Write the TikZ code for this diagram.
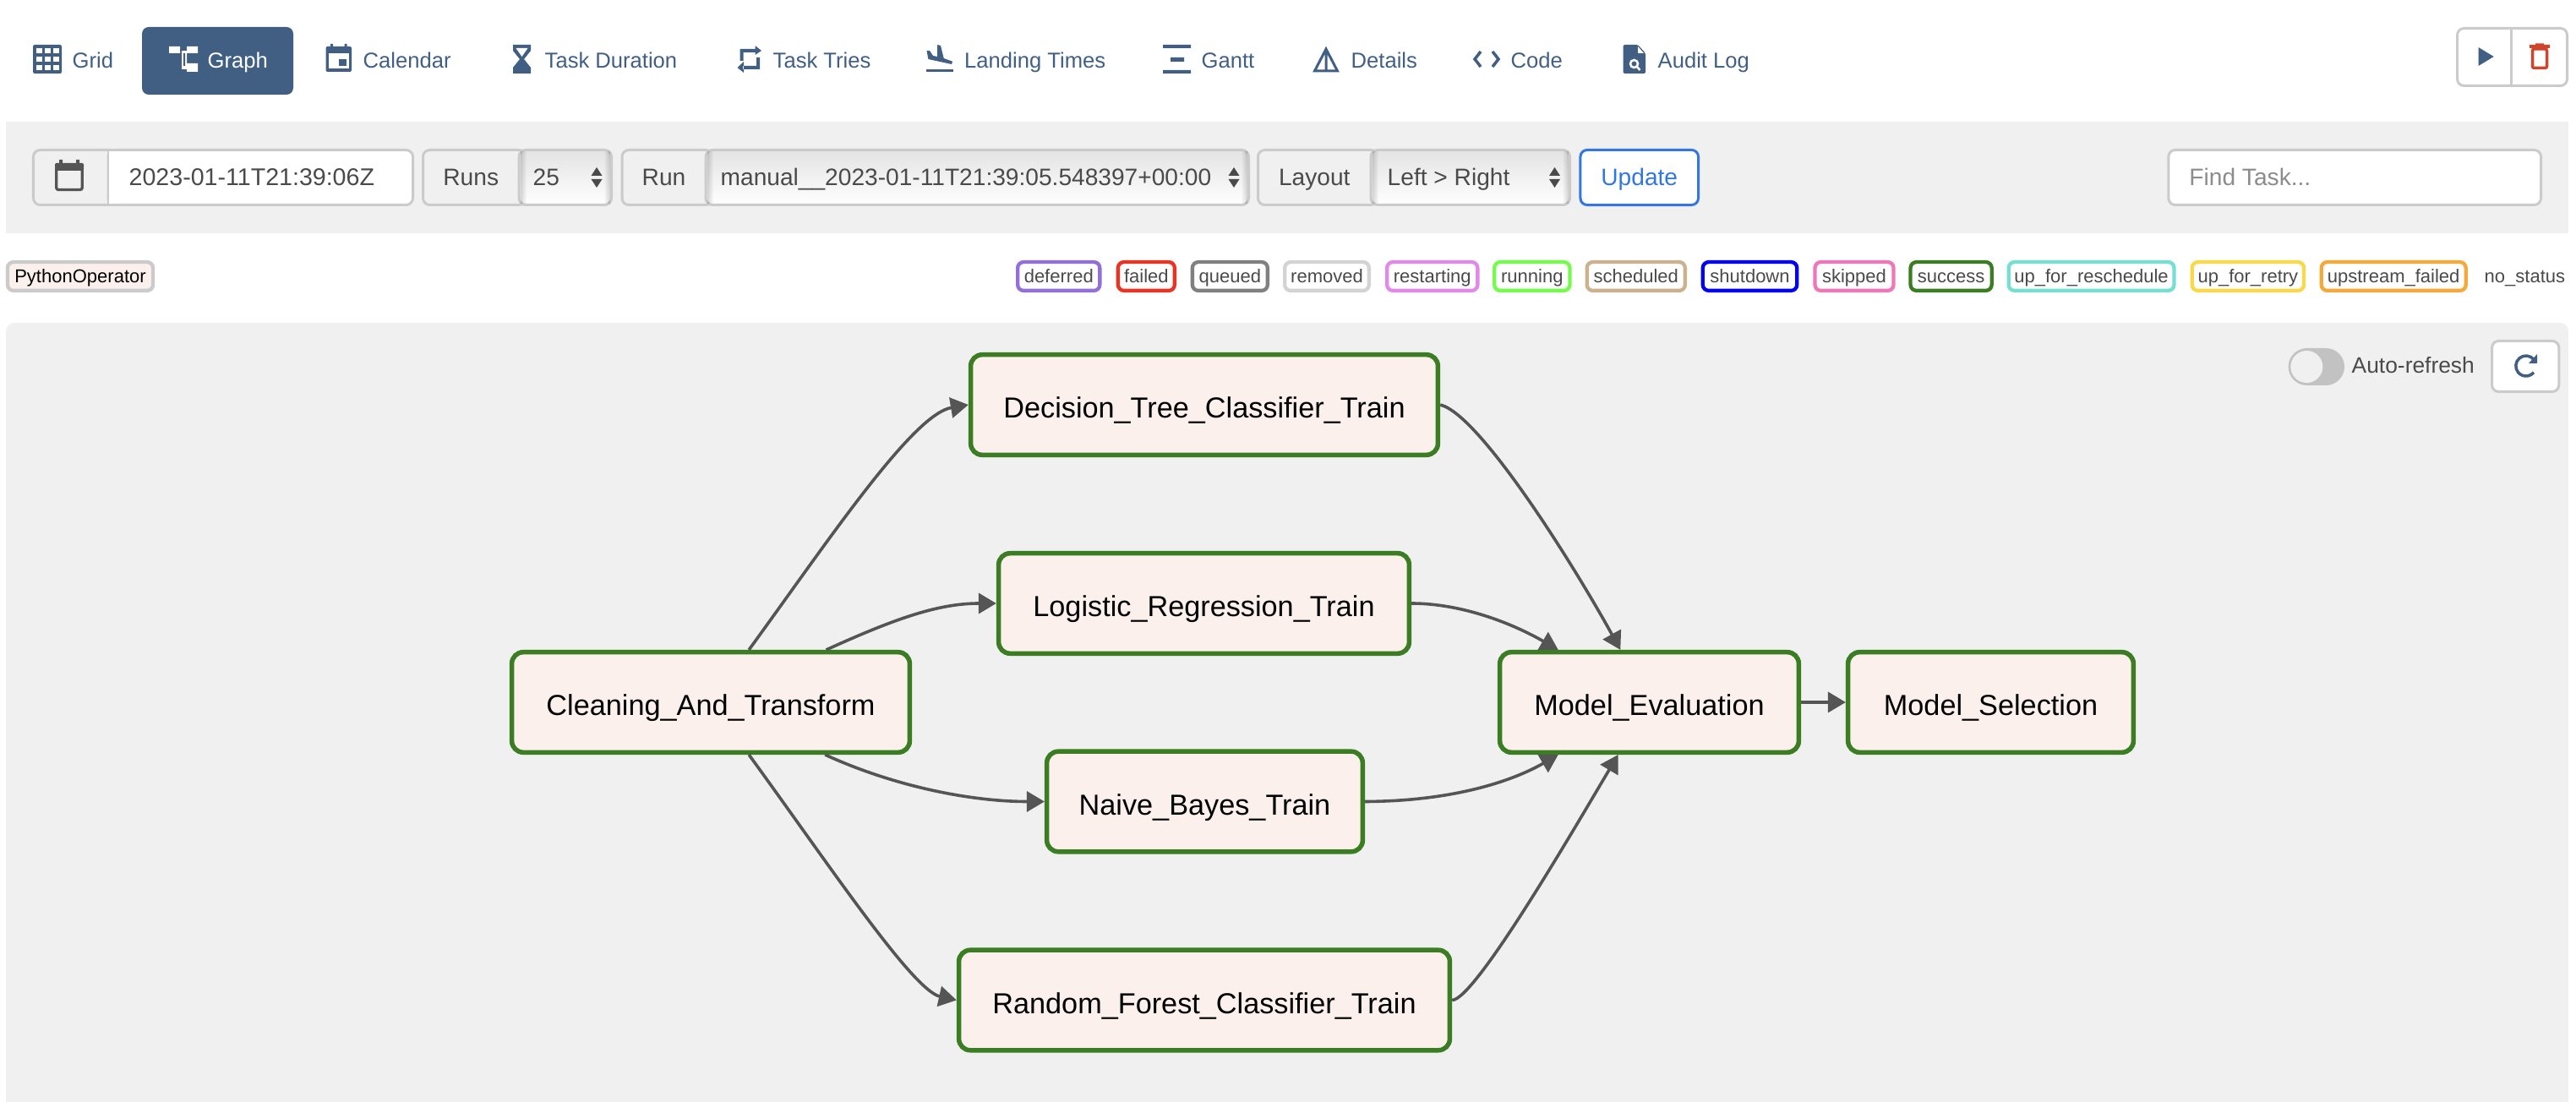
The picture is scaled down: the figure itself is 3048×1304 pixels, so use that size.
\documentclass[tikz,border=0pt]{standalone}
\usepackage{fontspec}
\setmainfont{Liberation Sans}
\usetikzlibrary{arrows.meta,fadings}

\definecolor{navblue}{HTML}{415F82}
\definecolor{panelgray}{HTML}{F0F0F0}
\definecolor{fieldgray}{HTML}{CBCBCB}
\definecolor{textgray}{HTML}{4A4A4A}
\definecolor{edgegray}{HTML}{555555}
\definecolor{taskgreen}{HTML}{3A7D22}
\definecolor{taskfill}{HTML}{FCF0EC}
\definecolor{updateblue}{HTML}{3276E4}
\definecolor{trashred}{HTML}{CF442B}
\definecolor{deferredc}{HTML}{9270D8}
\definecolor{failedc}{HTML}{EB3323}
\definecolor{queuedc}{HTML}{808080}
\definecolor{removedc}{HTML}{D3D3D3}
\definecolor{restartingc}{HTML}{E188E8}
\definecolor{runningc}{HTML}{75FB4C}
\definecolor{scheduledc}{HTML}{CBB18D}
\definecolor{shutdownc}{HTML}{0000F5}
\definecolor{skippedc}{HTML}{EF76B9}
\definecolor{reschedulec}{HTML}{75E0D2}
\definecolor{retryc}{HTML}{FBD84A}
\definecolor{upfailedc}{HTML}{F4A93A}

\tikzset{
  navlabel/.style={anchor=base west, inner sep=0, text=navblue, font=\fontsize{7.28}{9}\selectfont},
  formtext/.style={anchor=base west, inner sep=0, text=textgray, font=\fontsize{8}{10}\selectfont},
  addonbox/.style={draw=fieldgray, fill=panelgray, line width=0.03cm, rounded corners=0.08cm},
  inputbox/.style={draw=fieldgray, fill=white, line width=0.03cm, rounded corners=0.08cm},
  selectbox/.style={draw=fieldgray, top color=black!11, bottom color=white, line width=0.03cm, rounded corners=0.08cm},
  pill/.style={line width=0.043cm, fill=white, rounded corners=0.07cm, minimum height=0.338cm, inner sep=0,
    text height=0.19cm, text depth=0.03cm, text=textgray, font=\fontsize{6.26}{8}\selectfont},
  task/.style={draw=taskgreen, fill=taskfill, line width=0.055cm, rounded corners=0.135cm, minimum height=1.185cm,
    inner sep=0, text height=0.37cm, text depth=0.06cm, font=\fontsize{9.74}{12}\selectfont},
  flow/.style={draw=edgegray, line width=0.036cm, -{Triangle[length=0.21cm,width=0.24cm]}},
}

\begin{document}
\begin{tikzpicture}[x=0.01cm, y=-0.01cm]
  \useasboundingbox (0,0) rectangle (3048,1304);
  \fill[panelgray] (7,144) rectangle (3039,276);
  \fill[panelgray, rounded corners=0.1cm] (7,1304) -- (7,382) -- (3039,382) [sharp corners] -- (3039,1304) -- cycle;

  \fill[navblue, rounded corners=0.08cm] (168,32) rectangle (347,112);
  \foreach \name/\lab/\xa in {grid/Grid/85, calendar/Calendar/429, duration/Task Duration/644, tries/Task Tries/914,
      landing/Landing Times/1140.5, gantt/Gantt/1421, details/Details/1598, code/Code/1787, audit/Audit Log/1961}
    \node[navlabel] (\name) at (\xa,81) {\lab};
  \node[navlabel, text=white] (graph) at (245,81) {Graph};

  \fill[navblue, rounded corners=0.02cm] (39,53) rectangle (73,87);
  \foreach \i in {43,53,63}
    \foreach \j in {57,67,77}
      \fill[white] (\i,\j) rectangle +(6.5,6);
  \fill[white] (200,55) rectangle (213,63) (221,55) rectangle (234,63) (221,75) rectangle (234,85) (215,60) rectangle (221,82);
  \fill[navblue] (217,63) rectangle (219,78) (213,58) rectangle (221,60);
  \fill[navblue, rounded corners=0.02cm] (385.5,55) rectangle (416,85);
  \fill[navblue] (391,52) rectangle (394,57) (407.5,52) rectangle (410.5,57);
  \fill[white] (389,63) rectangle (412.5,81.5);
  \fill[navblue] (401,70) rectangle (410,78);
  \fill[navblue] (607,53) -- (628,53) -- (628,60) -- (620,70) -- (628,80) -- (628,87) -- (607,87) -- (607,80) -- (615,70) -- (607,60) -- cycle;
  \fill[white] (610.5,57) -- (624.5,57) -- (617.5,67) -- cycle;
  \fill[navblue] (875.5,58) rectangle (895,62) (875.5,58) rectangle (879.5,72) (901,60) -- (893.5,54) -- (893.5,65) -- cycle;
  \fill[navblue] (879,78) rectangle (899,82) (895,68) rectangle (899,82) (872.5,80) -- (880,73) -- (880,86) -- cycle;
  \fill[navblue] (1096,82) rectangle (1128,85);
  \fill[navblue] (1096.5,60) -- (1100,60) -- (1104,66) -- (1109,67) -- (1109,53) -- (1113,54) -- (1116.7,69) -- (1127,72.7) -- (1126,76) -- (1098.4,70) -- cycle;
  \fill[navblue] (1376,53) rectangle (1409,57) (1385,68) rectangle (1401,73) (1376,83) rectangle (1409,87);
  \draw[navblue, line width=0.03cm] (1555.5,84) -- (1569,58) -- (1582.5,84) -- cycle (1569,58) -- (1569,84);
  \draw[navblue, line width=0.035cm] (1752,61) -- (1745,70) -- (1752,79) (1766,61) -- (1773,70) -- (1766,79);
  \fill[navblue, rounded corners=0.015cm] (1920.5,53) -- (1938,53) -- (1947,63) -- (1947,87) -- (1920.5,87) -- cycle;
  \fill[white] (1938,55) -- (1945,63) -- (1938,63) -- cycle;
  \draw[white, line width=0.025cm] (1933.5,75.5) circle[radius=0.045cm] (1937,79) -- (1940.5,83);

  \draw[inputbox] (2907.5,33.5) rectangle (3037.5,101.5);
  \draw[fieldgray, line width=0.025cm] (2971.5,33) -- (2971.5,102);
  \fill[navblue] (2932.5,56) -- (2950.7,67) -- (2932.5,78) -- cycle;
  \fill[trashred] (2993,53) rectangle (3017,57) (3000,51.5) rectangle (3010,54);
  \draw[trashred, line width=0.035cm, rounded corners=0.02cm] (2996.5,58) rectangle (3013.5,80.5);

  \draw[addonbox] (39.5,177.5) rectangle (140,242.5);
  \draw[inputbox] (128,177.5) rectangle (488.5,242.5);
  \fill[white] (129,179) rectangle (140,241);
  \draw[fieldgray, line width=0.02cm] (128,177) -- (128,243);
  \draw[edgegray, line width=0.033cm, rounded corners=0.025cm] (66.7,196) rectangle (97.3,224.5);
  \fill[edgegray, rounded corners=0.015cm] (65,193) rectangle (99,202);
  \fill[edgegray] (70,189) rectangle (74,194) (90,189) rectangle (94,194);
  \node[formtext, font=\fontsize{8.13}{10}\selectfont] (datefield) at (152,220) {2023-01-11T21:39:06Z};

  \foreach \name/\lab/\xa/\xb in {runs/Runs/500.5/622, run/Run/736/843, layout/Layout/1488.5/1630} {
    \draw[addonbox] (\xa,177.5) rectangle (\xb,242.5);
    \node[formtext, anchor=base] (\name) at ({(\xa+\xb-8)/2},220) {\lab};
  }
  \foreach \xa/\xb/\xt in {614/725/706, 835/1479/1460, 1622/1859/1839.5} {
    \draw[selectbox] (\xa,177.5) rectangle (\xb-1.5,242.5);
    \fill[black, opacity=0.16, path fading=east] (\xa+1.5,179) rectangle (\xa+9,241);
    \fill[black, opacity=0.16, path fading=west] (\xb-10.5,179) rectangle (\xb-3,241);
    \fill[textgray] (\xt-6.5,208) -- (\xt,198) -- (\xt+6.5,208) -- cycle (\xt-6.5,212) -- (\xt,222) -- (\xt+6.5,212) -- cycle;
  }
  \node[formtext] (runcount) at (630,220) {25};
  \node[formtext] (runname) at (852,220) {manual\_\_2023-01-11T21:39:05.548397+00:00};
  \node[formtext] (direction) at (1641,220) {Left > Right};
  \node[draw=updateblue, fill=white, line width=0.03cm, rounded corners=0.08cm, minimum width=1.395cm, minimum height=0.65cm,
    inner sep=0, text height=0.24cm, text depth=0.04cm, text=updateblue, font=\fontsize{8}{10}\selectfont] (update) at (1939.75,210) {Update};
  \draw[inputbox] (2565.8,177.5) rectangle (3006.5,242.5);
  \node[formtext, text=black!45] (findtask) at (2589.7,220) {Find Task...};

  \node[pill, draw=fieldgray, fill=taskfill, minimum width=1.72cm, text=black] (operator) at (95,327) {PythonOperator};
  \foreach \name/\lab/\col/\xa/\xb in {deferred/deferred/deferredc/1202/1303.5, failed/failed/failedc/1320.7/1392,
      queued/queued/queuedc/1408.7/1502, removed/removed/removedc/1518/1622, restarting/restarting/restartingc/1639/1750.5,
      running/running/runningc/1766/1859.6, scheduled/scheduled/scheduledc/1875.5/1996, shutdown/shutdown/shutdownc/2012.6/2128.4,
      skipped/skipped/skippedc/2145.3/2242.7, success/success/taskgreen/2258.4/2358.8, reschedule/up\_for\_reschedule/reschedulec/2374.5/2574.6,
      retry/up\_for\_retry/retryc/2591.5/2728.2, upfailed/upstream\_failed/upfailedc/2744.5/2919.8}
    \node[pill, draw=\col, minimum width={(\xb-\xa-4.3)*0.01cm}] (\name) at ({(\xa+\xb)/2},327) {\lab};
  \node[formtext, font=\fontsize{6.26}{8}\selectfont] (nostatus) at (2939,335) {no\_status};

  \fill[black!24, rounded corners=0.22cm] (2707.6,412) rectangle (2774,456);
  \fill[panelgray] (2729.3,434) circle[radius=0.19cm];
  \node[formtext, font=\fontsize{7.5}{9}\selectfont] (autorefresh) at (2782,442) {Auto-refresh};
  \draw[inputbox] (2948.5,403.5) rectangle (3027.8,463.5);
  \draw[navblue, line width=0.035cm] (2998,425.3) arc[start angle=40, end angle=320, radius=0.12cm];
  \fill[navblue] (3002,419) -- (3002,430) -- (2992,430) -- cycle;

  \node[task, minimum width=4.705cm] (clean) at (841,831) {Cleaning\_And\_Transform};
  \node[task, minimum width=5.525cm] (dtree) at (1425,479) {Decision\_Tree\_Classifier\_Train};
  \node[task, minimum width=4.855cm] (logit) at (1424.5,714) {Logistic\_Regression\_Train};
  \node[task, minimum width=3.735cm] (nbayes) at (1425.5,948.5) {Naive\_Bayes\_Train};
  \node[task, minimum width=5.805cm] (rforest) at (1425,1183.5) {Random\_Forest\_Classifier\_Train};
  \node[task, minimum width=3.535cm] (evaluate) at (1951.5,831) {Model\_Evaluation};
  \node[task, minimum width=3.375cm] (select) at (2355.5,831) {Model\_Selection};

  \draw[flow] (clean) .. controls (980,640) and (1080,490) .. (dtree.west);
  \draw[flow] (clean) .. controls (1059,732) and (1110,714) .. (logit.west);
  \draw[flow] (clean) .. controls (1059,931) and (1150,948.5) .. (nbayes.west);
  \draw[flow] (clean) .. controls (980,1022) and (1080,1172) .. (rforest.west);
  \draw[flow] (dtree.east) .. controls (1750,490) and (1860,665) .. (evaluate);
  \draw[flow] (logit.east) .. controls (1730,714) and (1790,738) .. (evaluate);
  \draw[flow] (nbayes.east) .. controls (1720,948) and (1790,924) .. (evaluate);
  \draw[flow] (rforest.east) .. controls (1745,1183) and (1860,985) .. (evaluate);
  \draw[flow] (evaluate) -- (select);
\end{tikzpicture}
\end{document}
